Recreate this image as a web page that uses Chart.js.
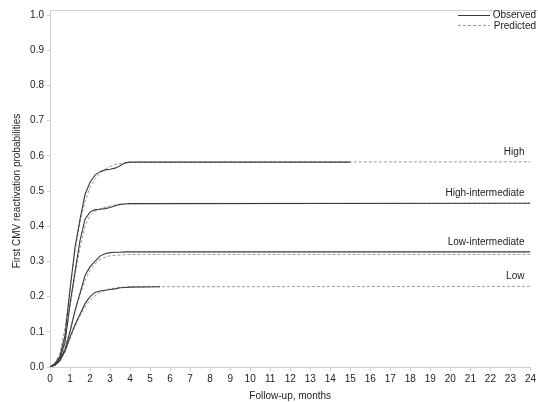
<!DOCTYPE html>
<html>
<head>
<meta charset="utf-8">
<script src="https://cdn.jsdelivr.net/npm/chart.js@4/dist/chart.umd.min.js"></script>
<style>
  html, body { margin: 0; padding: 0; background: #fff; }
  #wrap { width: 538px; height: 402px; }
</style>
</head>
<body>
<div id="wrap"><canvas id="grafico" width="538" height="402"></canvas></div>
<script>
// follow-up months (x) for the rising part of every curve
const meses = [0, 0.25, 0.5, 0.75, 1, 1.25, 1.5, 1.75, 2, 2.25, 2.5, 2.75, 3, 3.25, 3.5, 3.75, 4];

// observed (Kaplan-Meier style) curves
const altoObs = [0, 0.01, 0.03, 0.09, 0.22, 0.34, 0.42, 0.49, 0.525, 0.545, 0.555, 0.56, 0.562, 0.565, 0.572, 0.58, 0.582];
const altoIntObs = [0, 0.008, 0.025, 0.07, 0.18, 0.27, 0.36, 0.42, 0.44, 0.447, 0.448, 0.45, 0.453, 0.458, 0.462, 0.463, 0.464];
const bajoIntObs = [0, 0.006, 0.02, 0.05, 0.1, 0.16, 0.21, 0.26, 0.285, 0.3, 0.315, 0.322, 0.325, 0.326, 0.326, 0.327, 0.327];
const bajoObs = [0, 0.005, 0.018, 0.045, 0.085, 0.12, 0.15, 0.18, 0.2, 0.212, 0.216, 0.218, 0.22, 0.222, 0.225, 0.226, 0.227];

// predicted curves
const altoPred = [0, 0.012, 0.04, 0.11, 0.22, 0.33, 0.41, 0.47, 0.51, 0.535, 0.55, 0.562, 0.57, 0.575, 0.578, 0.58, 0.582];
const altoIntPred = [0, 0.01, 0.03, 0.08, 0.17, 0.26, 0.34, 0.4, 0.43, 0.443, 0.45, 0.454, 0.457, 0.46, 0.462, 0.463, 0.464];
const bajoIntPred = [0, 0.007, 0.022, 0.055, 0.105, 0.16, 0.205, 0.245, 0.275, 0.293, 0.305, 0.312, 0.316, 0.317, 0.318, 0.319, 0.32];
const bajoPred = [0, 0.006, 0.02, 0.045, 0.08, 0.115, 0.145, 0.17, 0.19, 0.203, 0.212, 0.218, 0.222, 0.224, 0.226, 0.227, 0.228];

// where each curve ends and its last value
const finObs = { alto: [15, 0.582], altoInt: [24, 0.465], bajoInt: [24, 0.327], bajo: [5.5, 0.228] };
const finPred = { alto: [24, 0.583], altoInt: [24, 0.465], bajoInt: [24, 0.32], bajo: [24, 0.229] };

const etiquetasGrupo = ['High', 'High-intermediate', 'Low-intermediate', 'Low'];
const valorEtiqueta = [0.582, 0.465, 0.327, 0.229];
const leyenda = ['Observed', 'Predicted'];

const FUENTE = '"Liberation Sans", Arial, sans-serif';

function puntos(ys, fin) {
    let lista = meses.map((m, i) => ({ x: m, y: ys[i] }));
    lista.push({ x: fin[0], y: fin[1] });
    return lista;
}

function serie(ys, fin, pred) {
    return {
        data: puntos(ys, fin),
        borderColor: pred ? '#9a9a9a' : '#3a3a3a',
        borderWidth: pred ? 1 : 1.1,
        borderDash: pred ? [3, 2] : [],
        pointRadius: 0,
        tension: 0,
        fill: false
    };
}

const extras = {
    id: 'extras',
    afterDraw(chart) {
        const ctx = chart.ctx;
        const area = chart.chartArea;
        const sx = chart.scales.x;
        const sy = chart.scales.y;
        ctx.save();
        // top frame line
        ctx.strokeStyle = '#d0d0d0';
        ctx.lineWidth = 1;
        ctx.beginPath();
        ctx.moveTo(area.left, 10.5);
        ctx.lineTo(538, 10.5);
        ctx.moveTo(area.left + 0.5, 10.5);
        ctx.lineTo(area.left + 0.5, area.top);
        ctx.stroke();
        // legend
        ctx.font = '10px ' + FUENTE;
        ctx.fillStyle = '#222';
        ctx.textAlign = 'right';
        ctx.textBaseline = 'middle';
        ctx.fillText(leyenda[0], 536, 15);
        ctx.fillText(leyenda[1], 536, 26);
        ctx.strokeStyle = '#3a3a3a';
        ctx.beginPath();
        ctx.moveTo(458, 15.5);
        ctx.lineTo(490, 15.5);
        ctx.stroke();
        ctx.strokeStyle = '#9a9a9a';
        ctx.setLineDash([3, 2]);
        ctx.beginPath();
        ctx.moveTo(458, 25.5);
        ctx.lineTo(490, 25.5);
        ctx.stroke();
        ctx.setLineDash([]);
        // group labels
        etiquetasGrupo.forEach((txt, i) => {
            ctx.fillText(txt, sx.getPixelForValue(24) - 6, sy.getPixelForValue(valorEtiqueta[i]) - 10);
        });
        ctx.restore();
    }
};

new Chart(document.getElementById('grafico').getContext('2d'), {
    type: 'line',
    data: {
        datasets: [
            serie(altoObs, finObs.alto, false),
            serie(altoPred, finPred.alto, true),
            serie(altoIntObs, finObs.altoInt, false),
            serie(altoIntPred, finPred.altoInt, true),
            serie(bajoIntObs, finObs.bajoInt, false),
            serie(bajoIntPred, finPred.bajoInt, true),
            serie(bajoObs, finObs.bajo, false),
            serie(bajoPred, finPred.bajo, true)
        ]
    },
    options: {
        responsive: false,
        animation: false,
        layout: { padding: { top: 15, right: 0, left: 0, bottom: 0 } },
        plugins: {
            legend: { display: false },
            tooltip: { enabled: false }
        },
        scales: {
            x: {
                type: 'linear',
                min: 0,
                max: 24,
                ticks: {
                    stepSize: 1,
                    autoSkip: false,
                    maxRotation: 0,
                    color: '#222',
                    font: { family: FUENTE, size: 10 },
                    padding: 2
                },
                grid: { drawOnChartArea: false, drawTicks: true, tickLength: 4, color: '#d0d0d0' },
                border: { color: '#d0d0d0' },
                title: {
                    display: true,
                    text: 'Follow-up, months',
                    color: '#222',
                    font: { family: FUENTE, size: 10 },
                    padding: { top: 1, bottom: 0 }
                },
                afterFit: s => { s.height = 35; }
            },
            y: {
                min: 0,
                max: 1,
                ticks: {
                    stepSize: 0.1,
                    color: '#222',
                    font: { family: FUENTE, size: 10 },
                    padding: 3,
                    callback: v => Number(v).toFixed(1)
                },
                grid: { drawOnChartArea: false, drawTicks: true, tickLength: 3, color: '#d0d0d0' },
                border: { color: '#d0d0d0' },
                title: {
                    display: true,
                    text: 'First CMV reactivation probabilities',
                    color: '#222',
                    font: { family: FUENTE, size: 10 },
                    padding: { top: 11, bottom: 4 }
                },
                afterFit: s => { s.width = 50; }
            }
        }
    },
    plugins: [extras]
});
</script>
</body>
</html>
